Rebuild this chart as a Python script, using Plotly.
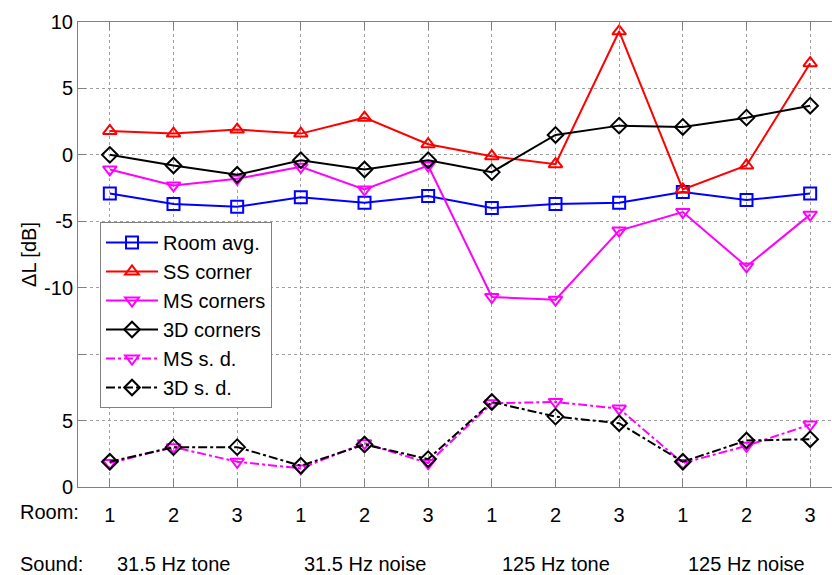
import plotly.graph_objects as go

# ---- data ----
positions = list(range(1, 13))
rooms = ['1', '2', '3'] * 4
sounds = ['31.5 Hz tone', '31.5 Hz noise', '125 Hz tone', '125 Hz noise']
sound_centers = [2, 5, 8, 11]

room_avg = [-2.9, -3.7, -3.9, -3.2, -3.6, -3.1, -4.0, -3.7, -3.6, -2.8, -3.4, -2.9]
ss_corner = [1.8, 1.6, 1.9, 1.6, 2.8, 0.8, -0.1, -0.7, 9.3, -2.6, -0.8, 6.9]
ms_corners = [-1.1, -2.3, -1.8, -0.9, -2.6, -0.8, -10.7, -10.9, -5.7, -4.3, -8.4, -4.5]
d3_corners = [0.0, -0.8, -1.5, -0.4, -1.1, -0.4, -1.3, 1.5, 2.2, 2.1, 2.8, 3.7]
ms_sd = [1.8, 3.0, 1.9, 1.4, 3.3, 1.8, 6.3, 6.4, 5.9, 1.8, 3.1, 4.7]
d3_sd = [1.9, 3.0, 3.0, 1.6, 3.2, 2.1, 6.4, 5.3, 4.8, 1.9, 3.5, 3.6]
sd_offset = -25  # s.d. panel drawn below the main one

ytick_vals = [-25, -20, -15, -10, -5, 0, 5, 10]
ytick_text = ['0', '5', '', '-10', '-5', '0', '5', '10']

FONT = 'Liberation Sans, Arial, sans-serif'
FS = 20
GRAY = '#808080'

fig = go.Figure()

def add(name, y, color, symbol, dash='solid', offset=0):
    fig.add_trace(go.Scatter(
        x=positions, y=[v + offset for v in y], name=name, mode='lines+markers',
        line=dict(color=color, width=2, dash=dash),
        marker=dict(symbol=symbol, size=12, color=color,
                    line=dict(color=color, width=2)),
    ))

add('Room avg.', room_avg, '#0000FF', 'square-open')
add('SS corner', ss_corner, '#FF0000', 'triangle-up-open')
add('MS corners', ms_corners, '#FF00FF', 'triangle-down-open')
add('3D corners', d3_corners, '#000000', 'diamond-open')
add('MS s. d.', ms_sd, '#FF00FF', 'triangle-down-open', 'dashdot', sd_offset)
add('3D s. d.', d3_sd, '#000000', 'diamond-open', 'dashdot', sd_offset)

afont = dict(family=FONT, size=FS, color='black')
annotations = [dict(text='Room:', x=0, xref='paper', xanchor='left', xshift=-60,
                    y=0, yref='paper', yanchor='top', yshift=-12, showarrow=False,
                    font=afont)]
annotations.append(dict(text='Sound:', x=0, xref='paper', xanchor='left', xshift=-60,
                        y=0, yref='paper', yanchor='top', yshift=-64, showarrow=False,
                        font=afont))
for s, c in zip(sounds, sound_centers):
    annotations.append(dict(text=s, x=c, xref='x', xanchor='center',
                            y=0, yref='paper', yanchor='top', yshift=-64, showarrow=False,
                            font=afont))

fig.update_layout(
    width=832, height=575,
    margin=dict(l=78, r=0, t=22, b=88),
    paper_bgcolor='white', plot_bgcolor='white',
    font=dict(family=FONT, size=FS, color='black'),
    showlegend=True,
    legend=dict(x=(100 - 78) / 754, y=(487 - 222) / 465, xanchor='left', yanchor='top',
                bgcolor='white', bordercolor=GRAY, borderwidth=1,
                font=dict(family=FONT, size=FS, color='black'),
                itemwidth=52, tracegroupgap=0),
    xaxis=dict(range=[0.5, 12.343], tickvals=positions, ticktext=rooms,
               showline=True, linecolor=GRAY, linewidth=1, mirror='ticks',
               ticks='inside', ticklen=8, tickcolor=GRAY, ticklabelstandoff=10,
               showgrid=True, gridcolor='#a0a0a0', griddash='dot', gridwidth=1,
               zeroline=False, tickfont=dict(family=FONT, size=FS, color='black')),
    yaxis=dict(range=[-25, 10], tickvals=ytick_vals, ticktext=ytick_text,
               showline=True, linecolor=GRAY, linewidth=1,
               ticks='inside', ticklen=8, tickcolor=GRAY,
               showgrid=True, gridcolor='#a0a0a0', griddash='dot', gridwidth=1,
               zeroline=False, tickfont=dict(family=FONT, size=FS, color='black'),
               title=dict(text='ΔL [dB]', font=dict(family=FONT, size=FS, color='black'),
                          standoff=2)),
    annotations=annotations,
)

fig.write_html('out.html')
